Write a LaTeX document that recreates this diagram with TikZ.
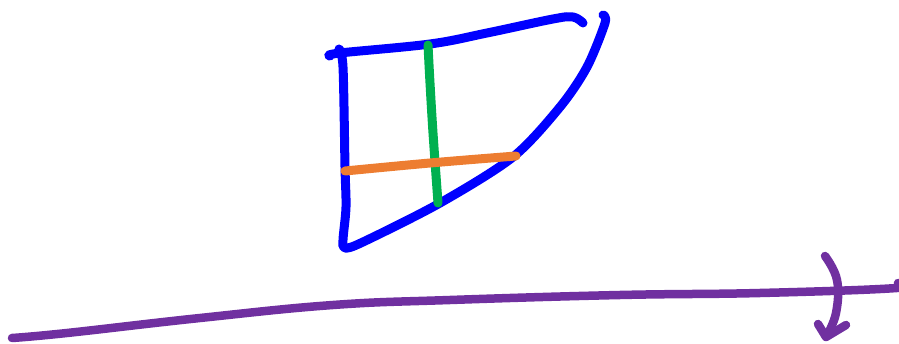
\documentclass[tikz,border=0pt]{standalone}
\definecolor{penblue}{RGB}{0,0,255}
\definecolor{pengreen}{RGB}{0,176,80}
\definecolor{penorange}{RGB}{237,125,49}
\definecolor{penpurple}{RGB}{112,48,160}
\begin{document}
\begin{tikzpicture}[x=1pt,y=-1pt,
  pen/.style={line width=9pt,line cap=round,line join=round}]
\useasboundingbox (0,0) rectangle (899,344);
% blue top edge
\draw[pen,penblue] plot[smooth,tension=0.6] coordinates {(330,56) (340,53) (430,44) (487,33) (553,19) (573,17) (583,23)};
% blue left edge and curved right edge
\draw[pen,penblue] plot[smooth,tension=0.5] coordinates {(339,49) (343,67) (345,167) (346,207) (343,240) (345,248) (363,242) (440,203) (513,157) (560,107) (587,67) (605,23) (603,15)};
% green
\draw[pen,pengreen] plot[smooth,tension=0.6] coordinates {(428,45) (430,83) (433,133) (438,203)};
% orange
\draw[pen,penorange] plot[smooth,tension=0.6] coordinates {(345,171) (430,163) (516,156)};
% purple axis
\draw[pen,line width=8.5pt,penpurple] plot[smooth,tension=0.7] coordinates {(12,338) (67,333) (200,318) (333,305) (450,300) (620,295) (760,293) (897,288) (898,283)};
% purple rotation arrow
\draw[pen,line width=8.5pt,penpurple] plot[smooth,tension=0.7] coordinates {(825,256) (837,280) (836,313) (826,337)};
\draw[pen,line width=8.5pt,penpurple] (818,324) -- (826,337) -- (846,325);
\end{tikzpicture}
\end{document}
